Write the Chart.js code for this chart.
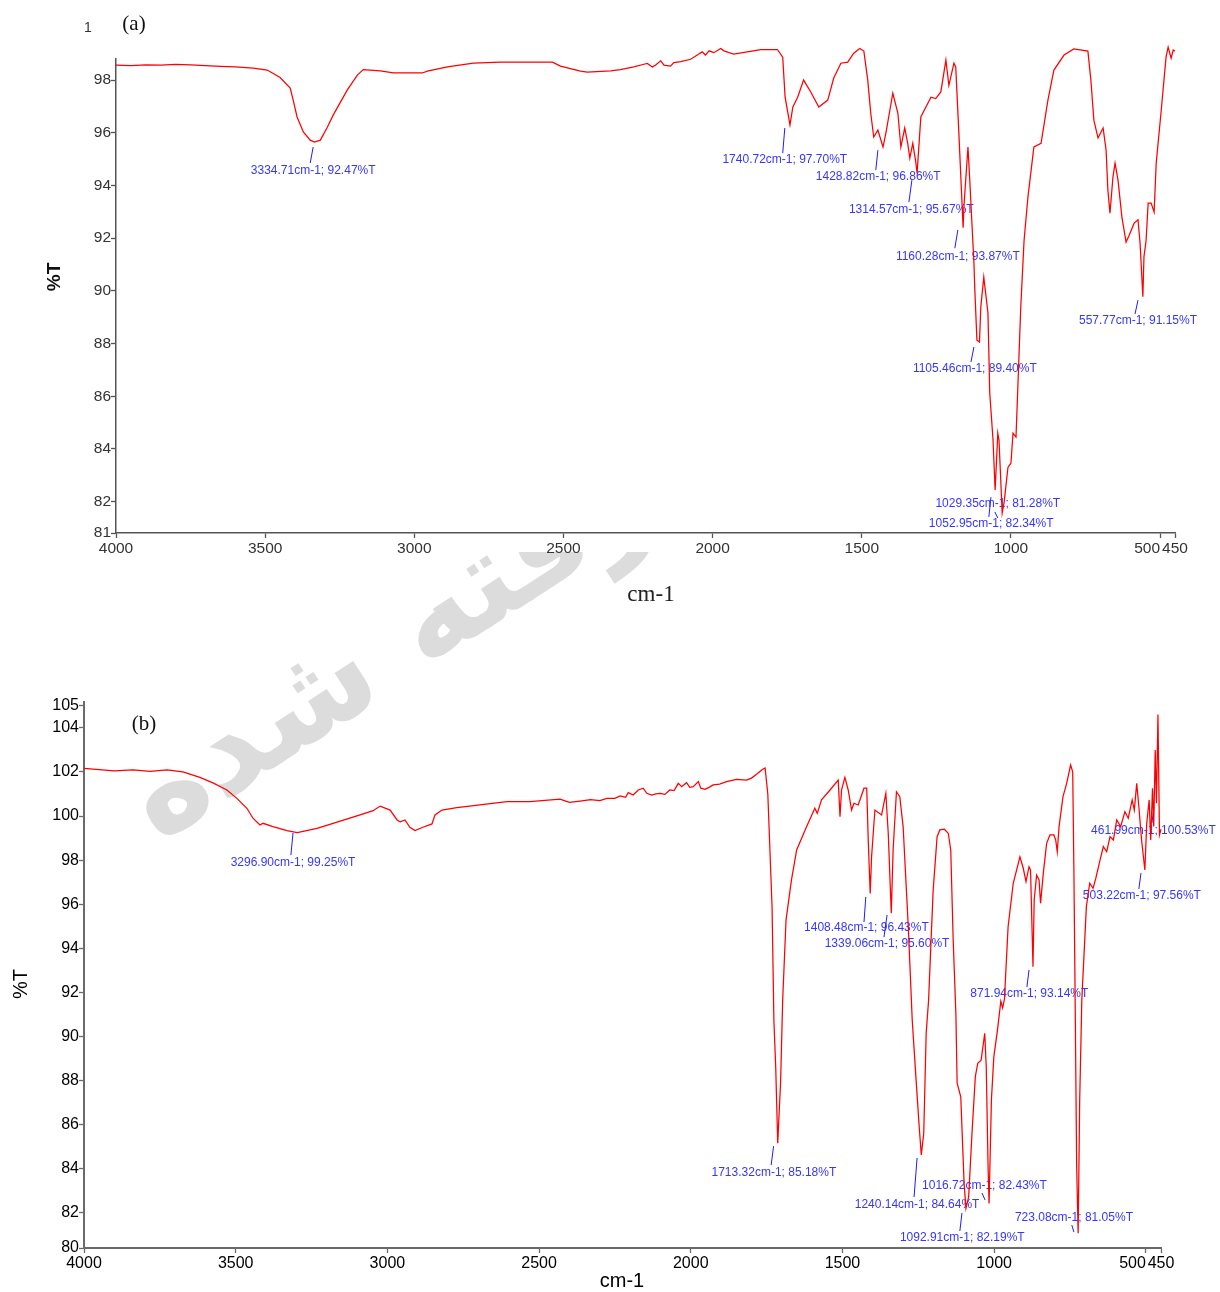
<!DOCTYPE html>
<html>
<head>
<meta charset="utf-8">
<script src="https://cdn.jsdelivr.net/npm/chart.js@4.4.1/dist/chart.umd.min.js"></script>
<style>
  html, body { margin:0; padding:0; background:#fff; }
  #page { position:relative; width:1220px; height:1292px; overflow:hidden; background:#fff; }
  #wm { position:absolute; left:0; top:0; z-index:1; }
  #cover { position:absolute; left:0; top:0; width:1220px; height:552px; background:#fff; z-index:2; }
  #cA { position:absolute; left:0; top:0; z-index:3; }
  #cB { position:absolute; left:0; top:620px; z-index:3; }
</style>
</head>
<body>
<div id="page">
  <canvas id="wm" width="1220" height="1292"></canvas>
  <div id="cover"></div>
  <canvas id="cA" width="1220" height="620"></canvas>
  <canvas id="cB" width="1220" height="672"></canvas>
</div>
<script>
// ---------------- DATA : spectrum (a) ----------------
const wnA = [4000,3950,3900,3850,3800,3750,3700,3650,3600,3540,3493,3450,3416,3406,3393,3372,3349,3334.71,3315,3292,3272,3225,3191,3171,3114,3070,2973,2956,2889,2802,2711,2537,2510,2443,2420,2342,2309,2264,2230,2219,2202,2191,2174,2163,2141,2130,2107,2074,2046,2035,2024,2012,1996,1973,1962,1945,1929,1884,1839,1783,1765,1757,1740.72,1731,1715,1695,1671,1644,1614,1594,1570,1547,1527,1507,1493,1480,1470,1460,1446,1428.82,1419,1396,1379,1369,1356,1346,1339,1329,1319,1314.57,1302,1285,1268,1252,1235,1218,1208,1191,1185,1175,1160.28,1157,1144,1138,1124,1121,1114,1105.46,1101,1091,1077,1071,1060,1052.95,1044,1040,1029.35,1023,1010,1000,993,983,976,967,956,943,923,899,876,856,822,789,742,732,722,708,691,681,675,668,658,651,641,628,614,604,587,574,567,557.77,554,547,540,530,520,513,497,480,473,463,456,450];
const tA  = [98.57,98.55,98.58,98.57,98.6,98.58,98.55,98.52,98.5,98.45,98.38,98.1,97.7,97.24,96.6,96.03,95.72,95.65,95.72,96.2,96.67,97.62,98.19,98.4,98.35,98.27,98.27,98.34,98.5,98.64,98.68,98.68,98.53,98.34,98.3,98.35,98.4,98.5,98.6,98.63,98.5,98.57,98.73,98.57,98.53,98.66,98.7,98.79,98.99,99.07,98.95,99.11,99.04,99.2,99.11,99.04,98.99,99.07,99.16,99.16,98.87,97.35,96.3,96.98,97.35,98.0,97.55,96.98,97.24,98.08,98.64,98.68,99.02,99.2,99.1,98.0,96.75,95.84,96.1,95.46,96.0,97.5,96.75,95.46,96.18,95.6,95.04,95.6,94.89,94.47,96.6,96.98,97.35,97.3,97.55,98.76,97.8,98.64,98.5,96.1,92.4,93.3,95.46,94.2,91.05,90.03,88.13,88.06,89.39,90.52,89.16,86.12,84.34,82.44,84.6,84.34,81.57,81.95,83.3,83.46,84.6,84.45,86.6,89.4,91.9,93.56,95.46,95.6,97.24,98.38,98.95,99.18,99.1,98.0,96.48,95.8,96.18,95.34,93.83,92.95,94.32,94.85,94.2,92.8,91.85,92.1,92.57,92.7,91.8,89.78,91.3,91.9,93.33,93.33,92.99,94.85,96.75,98.87,99.25,98.83,99.14,99.1];

// ---------------- DATA : spectrum (b) ----------------
const wnB = [4000,3950,3900,3838,3782,3726,3674,3618,3575,3529,3496,3463,3443,3420,3410,3377,3331,3296.9,3232,3179,3090,3047,3024,2991,2968,2958,2942,2926,2909,2883,2853,2843,2820,2771,2695,2606,2530,2431,2400,2365,2330,2300,2276,2250,2233,2215,2206,2190,2173,2157,2145,2129,2115,2101,2085,2069,2055,2041,2030,2014,2003,1992,1975,1967,1953,1940,1926,1905,1882,1849,1816,1800,1783,1765,1755,1746,1732,1726,1720,1713.32,1704,1697,1686,1668,1651,1618,1591,1583,1569,1541,1514,1508,1503,1492,1481,1470,1462,1448,1429,1420,1415,1408.48,1404,1393,1371,1357,1349,1339.06,1333,1322,1311,1300,1283,1270,1258,1247,1240.14,1232,1224,1216,1201,1188,1179,1164,1151,1143,1135,1126,1122,1110,1099,1092.91,1084,1073,1062,1054,1043,1031,1026,1020,1016.72,1009,1001,989,978,972,966,954,937,915,904,895,885,880,871.94,868,860,852,847,838,827,816,803,797,792,786,773,761,748,741,737,733,728,723.08,718,711,696,685,674,665,651,640,629,618,607,596,583,569,558,545,538,530,523,514,503.22,497,489,484,478,474,469,465,460,455,450];
const tB  = [102.16,102.1,102.05,102.09,102.02,102.09,102.0,101.75,101.5,101.18,100.8,100.35,99.9,99.59,99.67,99.52,99.34,99.25,99.44,99.67,100.05,100.24,100.45,100.27,99.82,99.74,99.82,99.49,99.34,99.49,99.64,100.05,100.27,100.38,100.5,100.65,100.65,100.76,100.62,100.68,100.74,100.7,100.8,100.8,100.91,100.85,101.06,100.95,101.18,101.26,101.03,100.95,101.0,101.03,100.98,101.18,101.15,101.48,101.33,101.51,101.3,101.33,101.56,101.26,101.21,101.3,101.41,101.45,101.56,101.66,101.63,101.72,101.89,102.1,102.18,101.0,95.87,90.75,88.63,85.16,87.89,91.66,95.28,97.1,98.46,99.52,100.35,100.12,100.73,101.18,101.63,99.97,101.18,101.75,101.18,100.27,100.58,100.5,101.26,101.26,98.91,96.49,98.15,100.27,100.05,101.03,99.21,95.59,98.46,101.1,100.88,99.52,94.98,90.75,88.18,85.91,84.63,85.61,90.15,91.66,96.64,99.06,99.37,99.4,99.21,98.46,94.38,91.0,87.88,87.27,83.34,82.21,82.73,85.61,88.18,88.79,88.93,90.15,88.63,84.1,82.43,87.12,89.09,90.29,91.6,91.3,91.7,94.98,96.95,98.15,97.63,97.02,97.7,97.55,93.17,96.19,97.32,97.1,96.04,97.4,98.76,99.14,99.14,98.91,98.38,99.52,100.88,101.48,102.31,102.0,97.4,91.66,84.1,81.08,87.12,91.66,95.89,96.95,96.72,97.17,98.0,98.61,98.38,99.06,98.91,99.82,99.52,100.2,99.9,100.73,100.27,101.48,100.42,98.91,97.55,99.67,100.73,98.91,101.26,99.52,102.99,100.58,104.6,99.14,99.4];

// ---------------- tick labels ----------------
const xTicks  = [4000,3500,3000,2500,2000,1500,1000,500,450];
const yTicksA = [81,82,84,86,88,90,92,94,96,98];
const yTicksB = [80,82,84,86,88,90,92,94,96,98,100,102,104,105];
const yRangeA = [80.81, 98.8];
const yRangeB = [80.41, 105.17];

// ---------------- peak annotations ----------------
const peakTextA = ['3334.71cm-1; 92.47%T','1740.72cm-1; 97.70%T','1428.82cm-1; 96.86%T','1314.57cm-1; 95.67%T','1160.28cm-1; 93.87%T','557.77cm-1; 91.15%T','1105.46cm-1; 89.40%T','1029.35cm-1; 81.28%T','1052.95cm-1; 82.34%T'];
const peakTextB = ['3296.90cm-1; 99.25%T','1408.48cm-1; 96.43%T','1339.06cm-1; 95.60%T','871.94cm-1; 93.14%T','461.99cm-1; 100.53%T','503.22cm-1; 97.56%T','1713.32cm-1; 85.18%T','1240.14cm-1; 84.64%T','1016.72cm-1; 82.43%T','1092.91cm-1; 82.19%T','723.08cm-1; 81.05%T'];
// label anchor (wavenumber, %T) and leader line (wn1,%T1,wn2,%T2) in data units
const peakPosA = [
  [3339,94.58, 3339,95.46,3349,94.85],
  [1758,94.96, 1758,96.18,1765,95.23],
  [1445,94.32, 1446,95.34,1453,94.58],
  [1334,93.07, 1332,94.2,1342,93.37],
  [1178,91.28, 1178,92.31,1188,91.62],
  [574,88.85,  574,89.65,584,89.12],
  [1121,87.03, 1124,87.87,1134,87.3],
  [1044,81.91, 1067,82.17,1074,81.42],
  [1066,81.15, 1054,81.61,1044,81.38]
];
const peakPosB = [
  [3311,97.87, 3311,99.23,3318,98.23],
  [1421,94.92, 1423,96.33,1429,95.19],
  [1353,94.2,  1353,95.51,1363,94.51],
  [884,91.93,  885,93.02,892,92.24],
  [475,99.32,  473,100.41,480,99.68],
  [513,96.37,  516,97.41,523,96.69],
  [1726,83.81, 1727,85.03,1735,84.17],
  [1254,82.36, 1254,84.49,1264,82.72],
  [1032,83.22, 1040,82.9,1030,82.59],
  [1105,80.86, 1106,82.0,1113,81.18],
  [737,81.77,  744,81.45,737,81.13]
];

// ---------------- watermark ----------------
(function(){
  const c = document.getElementById('wm').getContext('2d');
  c.save();
  c.translate(158, 843);
  c.rotate(-33 * Math.PI / 180);
  c.font = 'bold 127px "DejaVu Sans"';
  c.fillStyle = '#dcdcdc';
  c.direction = 'rtl';
  c.textAlign = 'left';
  c.textBaseline = 'alphabetic';
  c.fillText('گرفته شده', 0, 0);
  c.restore();
})();

// ---------------- plugins ----------------
const peaksPlugin = {
  id: 'peaks',
  beforeDatasetsDraw(chart, args, opts) {
    const ctx = chart.ctx, xs = chart.scales.x, ys = chart.scales.y;
    ctx.save();
    ctx.font = opts.font;
    ctx.textAlign = 'center';
    ctx.textBaseline = 'middle';
    opts.texts.forEach((t, i) => {
      const p = opts.pos[i];
      ctx.strokeStyle = opts.lineColor;
      ctx.lineWidth = 1;
      ctx.beginPath();
      ctx.moveTo(xs.getPixelForValue(p[2]), ys.getPixelForValue(p[3]));
      ctx.lineTo(xs.getPixelForValue(p[4]), ys.getPixelForValue(p[5]));
      ctx.stroke();
      ctx.fillStyle = opts.color;
      ctx.fillText(t, xs.getPixelForValue(p[0]), ys.getPixelForValue(p[1]));
    });
    ctx.restore();
  }
};
const decoPlugin = {
  id: 'deco',
  afterDraw(chart, args, opts) {
    const ctx = chart.ctx;
    opts.items.forEach(it => {
      ctx.save();
      ctx.font = it.font;
      ctx.fillStyle = it.color || '#000';
      ctx.textAlign = 'center';
      ctx.textBaseline = 'middle';
      ctx.translate(it.x, it.y);
      if (it.rot) ctx.rotate(it.rot * Math.PI / 180);
      ctx.fillText(it.t, 0, 0);
      ctx.restore();
    });
  }
};

Chart.defaults.font.family = '"Liberation Sans", Arial, sans-serif';

function build(id, wn, tv, yTicks, yRange, cfg) {
  const pts = wn.map((w, i) => ({ x: w, y: tv[i] }));
  return new Chart(document.getElementById(id), {
    type: 'scatter',
    data: { datasets: [{ data: pts, showLine: true, borderColor: '#ff0000', borderWidth: 1.25,
      pointRadius: 0, pointHoverRadius: 0, tension: 0, clip: false }] },
    options: {
      responsive: false, animation: false, devicePixelRatio: 1,
      layout: { padding: cfg.padding },
      plugins: {
        legend: { display: false }, tooltip: { enabled: false },
        peaks: { texts: cfg.peakText, pos: cfg.peakPos, font: '12px "Liberation Sans", Arial, sans-serif', color: '#3636ff', lineColor: '#1c1cff' },
        deco: { items: cfg.deco }
      },
      scales: {
        x: {
          type: 'linear', reverse: true, min: 450, max: 4000,
          afterBuildTicks: s => { s.ticks = xTicks.map(v => ({ value: v })); },
          afterFit: s => { s.height = cfg.xHeight; },
          ticks: { autoSkip: false, maxRotation: 0, minRotation: 0, padding: cfg.tickPad,
            color: cfg.tickColor, font: { size: cfg.tickSize },
            callback: v => v === 500 ? '500\u2007\u2007\u2007' : String(v) },
          grid: { drawOnChartArea: false, drawTicks: true, tickLength: 5, tickColor: cfg.axisColor, tickWidth: 1.3 },
          border: { display: true, color: cfg.axisColor, width: cfg.axisWidth }
        },
        y: {
          min: yRange[0], max: yRange[1],
          afterBuildTicks: s => {
            s.ticks = yTicks.map((v, i) => ({ value: i === 0 ? s.min : (v > s.max ? s.max : v) }));
          },
          afterFit: s => { s.width = cfg.yWidth; },
          ticks: { autoSkip: false, padding: 0, color: cfg.tickColor, font: { size: cfg.tickSize },
            callback: (v, i) => String(yTicks[i]) },
          grid: { drawOnChartArea: false, drawTicks: true, tickLength: 5, tickColor: cfg.axisColor, tickWidth: 1.3 },
          border: { display: true, color: cfg.axisColor, width: cfg.axisWidth }
        }
      }
    },
    plugins: [peaksPlugin, decoPlugin]
  });
}

build('cA', wnA, tA, yTicksA, yRangeA, {
  padding: { top: 59, right: 45, left: 0, bottom: 0 },
  xHeight: 87, yWidth: 116, tickPad: 1, tickSize: 15.5, tickColor: '#333', axisColor: '#555', axisWidth: 1.5,
  peakText: peakTextA, peakPos: peakPosA,
  deco: [
    { t: '%T', x: 55, y: 277, rot: -90, font: 'bold 19px "Liberation Sans", Arial, sans-serif', color: '#111' },
    { t: 'cm-1', x: 651, y: 595, font: '23px "Liberation Serif", "Times New Roman", serif', color: '#222' },
    { t: '(a)', x: 134, y: 24, font: '21px "Liberation Serif", "Times New Roman", serif', color: '#111' },
    { t: '1', x: 88, y: 28, font: '14px "Liberation Sans", Arial, sans-serif', color: '#333' }
  ]
});

build('cB', wnB, tB, yTicksB, yRangeB, {
  padding: { top: 82, right: 59, left: 0, bottom: 0 },
  xHeight: 44, yWidth: 84, tickPad: 1, tickSize: 16, tickColor: '#000', axisColor: '#6a6a6a', axisWidth: 2,
  peakText: peakTextB, peakPos: peakPosB,
  deco: [
    { t: '%T', x: 21, y: 364, rot: -90, font: '20px "Liberation Sans", Arial, sans-serif', color: '#000' },
    { t: 'cm-1', x: 622, y: 661, font: '20px "Liberation Sans", Arial, sans-serif', color: '#000' },
    { t: '(b)', x: 144, y: 104, font: '21px "Liberation Serif", "Times New Roman", serif', color: '#111' }
  ]
});
</script>
</body>
</html>
